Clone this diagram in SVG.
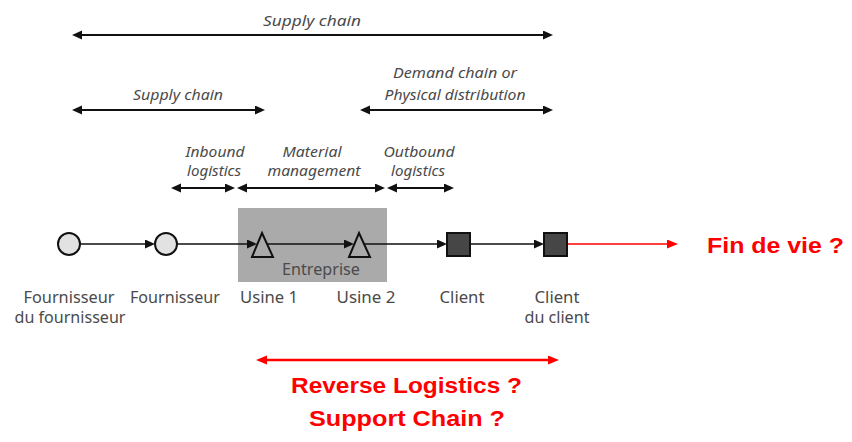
<svg xmlns="http://www.w3.org/2000/svg" width="852" height="442" viewBox="0 0 852 442">
  <style>
    .it { font-family: "Noto Sans", "Open Sans", sans-serif; font-style: italic; font-size: 15px; fill: #4a4a4a; text-anchor: middle; }
    .lb { font-family: "Noto Sans", "Open Sans", sans-serif; font-size: 16px; fill: #4a4a4a; text-anchor: middle; }
    .red { font-family: "Liberation Sans", Arial, sans-serif; font-weight: bold; font-size: 22px; fill: #ff0000; text-anchor: middle; }
    .span { stroke: #111; stroke-width: 2; fill: none; }
    .flow { stroke: #111; stroke-width: 1.5; fill: none; }
    .rflow { stroke: #ff0000; stroke-width: 1.5; fill: none; }
    .rspan { stroke: #ff0000; stroke-width: 2.5; fill: none; }
  </style>
  <defs>
    <marker id="headBig" markerUnits="userSpaceOnUse" markerWidth="10" markerHeight="10" refX="5" refY="4.5" orient="auto-start-reverse">
      <path d="M0,0 L10,4.5 L0,9 z" fill="#111"/>
    </marker>
    <marker id="headSmall" markerUnits="userSpaceOnUse" markerWidth="10" markerHeight="10" refX="5" refY="4.5" orient="auto">
      <path d="M0,0 L10,4.5 L0,9 z" fill="#111"/>
    </marker>
    <marker id="headRed" markerUnits="userSpaceOnUse" markerWidth="12" markerHeight="10" refX="5.5" refY="4.5" orient="auto-start-reverse">
      <path d="M0,0 L11,4.5 L0,9 z" fill="#ff0000"/>
    </marker>
  </defs>

  <rect width="852" height="442" fill="#ffffff"/>

  <!-- scope spans -->
  <g id="spans">
    <text class="it" x="312" y="26" textLength="98" lengthAdjust="spacingAndGlyphs">Supply chain</text>
    <line class="span" x1="77" y1="35" x2="548" y2="35" marker-start="url(#headBig)" marker-end="url(#headBig)"/>

    <text class="it" x="178" y="100" textLength="90" lengthAdjust="spacingAndGlyphs">Supply chain</text>
    <line class="span" x1="77" y1="110" x2="260" y2="110" marker-start="url(#headBig)" marker-end="url(#headBig)"/>

    <text class="it" x="455" y="78" textLength="124" lengthAdjust="spacingAndGlyphs">Demand chain or</text>
    <text class="it" x="455" y="100" textLength="141" lengthAdjust="spacingAndGlyphs">Physical distribution</text>
    <line class="span" x1="365" y1="110" x2="548" y2="110" marker-start="url(#headBig)" marker-end="url(#headBig)"/>

    <text class="it" x="215" y="157" textLength="59" lengthAdjust="spacingAndGlyphs">Inbound</text>
    <text class="it" x="214" y="176" textLength="54" lengthAdjust="spacingAndGlyphs">logistics</text>
    <line class="span" x1="176" y1="188" x2="230" y2="188" marker-start="url(#headBig)" marker-end="url(#headBig)"/>

    <text class="it" x="312" y="157" textLength="59" lengthAdjust="spacingAndGlyphs">Material</text>
    <text class="it" x="314" y="176" textLength="93" lengthAdjust="spacingAndGlyphs">management</text>
    <line class="span" x1="242" y1="188" x2="380" y2="188" marker-start="url(#headBig)" marker-end="url(#headBig)"/>

    <text class="it" x="419" y="157" textLength="71" lengthAdjust="spacingAndGlyphs">Outbound</text>
    <text class="it" x="418" y="176" textLength="54" lengthAdjust="spacingAndGlyphs">logistics</text>
    <line class="span" x1="392" y1="188" x2="449" y2="188" marker-start="url(#headBig)" marker-end="url(#headBig)"/>
  </g>

  <!-- company boundary -->
  <g id="entreprise">
    <rect x="238" y="208" width="149" height="74" fill="#aaaaaa"/>
    <text class="lb" x="321" y="275" textLength="78" lengthAdjust="spacingAndGlyphs">Entreprise</text>
  </g>

  <!-- flow connectors -->
  <g id="connectors">
    <line class="flow" x1="80" y1="244" x2="150" y2="244" marker-end="url(#headSmall)"/>
    <line class="flow" x1="177" y1="244" x2="252" y2="244" marker-end="url(#headSmall)"/>
    <line class="flow" x1="267" y1="244" x2="349" y2="244" marker-end="url(#headSmall)"/>
    <line class="flow" x1="364" y1="244" x2="442" y2="244" marker-end="url(#headSmall)"/>
    <line class="flow" x1="470" y1="244" x2="539" y2="244" marker-end="url(#headSmall)"/>
    <line class="rflow" x1="567" y1="244" x2="672.5" y2="244" marker-end="url(#headRed)"/>
  </g>

  <!-- nodes -->
  <g id="fournisseur-du-fournisseur">
    <circle cx="69" cy="244" r="11" fill="#e2e2e2" stroke="#111" stroke-width="2"/>
    <text class="lb" x="69" y="303" textLength="91" lengthAdjust="spacingAndGlyphs">Fournisseur</text>
    <text class="lb" x="70" y="323" textLength="111" lengthAdjust="spacingAndGlyphs">du fournisseur</text>
  </g>
  <g id="fournisseur">
    <circle cx="166" cy="244" r="11" fill="#e2e2e2" stroke="#111" stroke-width="2"/>
    <text class="lb" x="175" y="303" textLength="90" lengthAdjust="spacingAndGlyphs">Fournisseur</text>
  </g>
  <g id="usine-1">
    <path d="M262,233 L273,257 L252,257 z" fill="none" stroke="#111" stroke-width="2" stroke-linejoin="miter"/>
    <text class="lb" x="269" y="303" textLength="58" lengthAdjust="spacingAndGlyphs">Usine 1</text>
  </g>
  <g id="usine-2">
    <path d="M359,233 L370,257 L349,257 z" fill="none" stroke="#111" stroke-width="2" stroke-linejoin="miter"/>
    <text class="lb" x="366" y="303" textLength="59" lengthAdjust="spacingAndGlyphs">Usine 2</text>
  </g>
  <g id="client">
    <rect x="447" y="233" width="23" height="23" fill="#464646" stroke="#111" stroke-width="2"/>
    <text class="lb" x="462" y="303" textLength="45" lengthAdjust="spacingAndGlyphs">Client</text>
  </g>
  <g id="client-du-client">
    <rect x="544" y="233" width="23" height="23" fill="#464646" stroke="#111" stroke-width="2"/>
    <text class="lb" x="557" y="303" textLength="45" lengthAdjust="spacingAndGlyphs">Client</text>
    <text class="lb" x="557" y="323" textLength="65" lengthAdjust="spacingAndGlyphs">du client</text>
  </g>

  <!-- end-of-life and reverse flow annotations -->
  <g id="fin-de-vie">
    <text class="red" x="775.5" y="253" textLength="137" lengthAdjust="spacingAndGlyphs">Fin de vie ?</text>
  </g>
  <g id="reverse">
    <line class="rspan" x1="261.5" y1="360" x2="553.5" y2="360" marker-start="url(#headRed)" marker-end="url(#headRed)"/>
    <text class="red" x="406.5" y="393" textLength="231" lengthAdjust="spacingAndGlyphs">Reverse Logistics ?</text>
    <text class="red" x="407" y="426" textLength="196" lengthAdjust="spacingAndGlyphs">Support Chain ?</text>
  </g>
</svg>
